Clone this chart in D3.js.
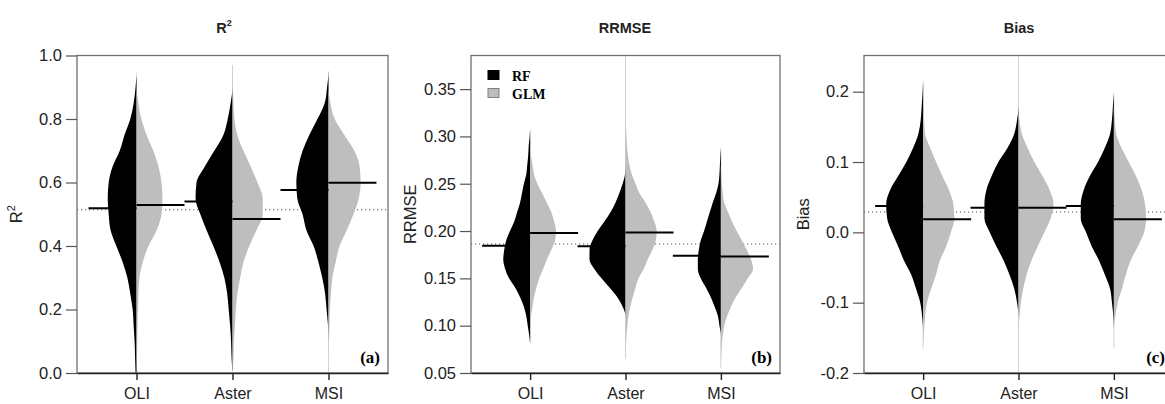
<!DOCTYPE html>
<html>
<head>
<meta charset="utf-8">
<script src="https://cdn.jsdelivr.net/npm/d3@7"></script>
<style>
  body { margin: 0; background: #fff; }
  svg { display: block; font-family: "Liberation Sans", Arial, sans-serif; }
</style>
</head>
<body>
<svg id="chart" width="1165" height="404"></svg>
<script>
const sensors = ["OLI", "Aster", "MSI"];
const models = ["RF", "GLM"];

// (a) R2 -- relative bean density read at each level, one row per sensor
const r2Levels = [1.00, 0.95, 0.90, 0.85, 0.80, 0.75, 0.70, 0.65, 0.60, 0.55, 0.50,
                  0.45, 0.40, 0.35, 0.30, 0.25, 0.20, 0.15, 0.10, 0.05, 0.00];
const r2DensRF = [
  [0, 0, .02, .06, .13, .25, .35, .50, .58, .60, .58, .54, .42, .29, .19, .13, .08, .06, .04, .03, .02],
  [0, 0, 0, .04, .10, .19, .38, .58, .75, .77, .67, .54, .40, .27, .17, .11, .08, .05, .03, .02, 0],
  [0, 0, .03, .08, .23, .40, .54, .63, .67, .65, .54, .46, .31, .21, .13, .07, .04, .01, 0, 0, 0]
];
const r2DensGLM = [
  [0, 0, 0, .04, .10, .21, .35, .46, .52, .54, .52, .42, .25, .13, .06, .04, .03, .02, .015, .01, 0],
  [0, 0, .01, .02, .04, .10, .23, .38, .52, .63, .63, .50, .35, .23, .16, .10, .07, .05, .03, .02, 0],
  [0, 0, 0, .04, .13, .33, .54, .65, .67, .63, .52, .38, .23, .15, .08, .05, .03, .02, .01, 0, 0]
];
const r2MedRF = [0.519, 0.540, 0.576];
const r2MedGLM = [0.529, 0.485, 0.599];
const r2Tails = [[0.0, 0.93], [0.01, 0.97], [0.0, 0.95]];
const r2Mean = 0.514;
const r2Ticks = [0.0, 0.2, 0.4, 0.6, 0.8, 1.0];

// (b) RRMSE
const rrmseLevels = [0.32, 0.31, 0.30, 0.29, 0.28, 0.27, 0.26, 0.25, 0.24, 0.23, 0.22, 0.21, 0.20, 0.19,
                     0.18, 0.17, 0.16, 0.15, 0.14, 0.13, 0.12, 0.11, 0.10, 0.09, 0.08, 0.07, 0.06];
const rrmseDensRF = [
  [0, 0, .01, .03, .04, .06, .08, .13, .17, .21, .27, .33, .42, .50, .54, .56, .52, .44, .31, .21, .13, .08, .05, .02, 0, 0, 0],
  [0, 0, 0, 0, 0, 0, .01, .06, .13, .21, .31, .44, .58, .69, .75, .75, .65, .50, .33, .17, .06, 0, 0, 0, 0, 0, 0],
  [0, 0, 0, 0, .01, .02, .03, .05, .10, .17, .23, .29, .35, .42, .46, .48, .48, .42, .31, .21, .13, .06, .03, 0, 0, 0, 0]
];
const rrmseDensGLM = [
  [0, 0, 0, .01, .02, .05, .08, .15, .25, .35, .44, .50, .54, .52, .44, .35, .27, .19, .13, .08, .05, .02, 0, 0, 0, 0, 0],
  [0, .01, .02, .03, .05, .08, .13, .21, .29, .42, .52, .60, .65, .63, .56, .46, .38, .27, .21, .15, .10, .06, .04, .02, .01, 0, 0],
  [0, 0, 0, 0, 0, 0, .01, .02, .04, .07, .15, .23, .33, .44, .54, .63, .67, .56, .44, .31, .21, .13, .07, .04, .02, .01, 0]
];
const rrmseMedRF = [0.1845, 0.184, 0.174];
const rrmseMedGLM = [0.198, 0.1985, 0.173];
const rrmseTails = [[0.083, 0.305], [0.065, 0.39], [0.055, 0.285]];
const rrmseMean = 0.1863;
const rrmseTicks = [0.05, 0.10, 0.15, 0.20, 0.25, 0.30, 0.35];

// (c) Bias
const biasLevels = [0.22, 0.20, 0.18, 0.16, 0.14, 0.12, 0.10, 0.08, 0.06, 0.04,
                    0.02, 0.00, -0.02, -0.04, -0.06, -0.08, -0.10, -0.12, -0.14, -0.16];
const biasDensRF = [
  [0, .01, .03, .05, .10, .21, .35, .52, .69, .77, .75, .65, .52, .40, .25, .15, .06, .02, 0, 0],
  [0, 0, 0, .03, .09, .23, .42, .56, .67, .71, .71, .60, .46, .31, .19, .09, .03, 0, 0, 0],
  [0, 0, .02, .04, .08, .19, .33, .50, .63, .69, .69, .58, .46, .31, .19, .08, .04, .01, 0, 0]
];
const biasDensGLM = [
  [0, 0, 0, .02, .04, .15, .27, .40, .54, .63, .65, .58, .48, .35, .27, .17, .08, .04, .02, 0],
  [0, 0, 0, .02, .07, .19, .33, .50, .65, .73, .67, .54, .40, .27, .17, .10, .05, .02, 0, 0],
  [0, 0, 0, .02, .05, .16, .31, .46, .58, .65, .67, .63, .50, .35, .25, .17, .08, .03, 0, 0]
];
const biasMedRF = [0.0374, 0.035, 0.0374];
const biasMedGLM = [0.0185, 0.035, 0.0185];
const biasTails = [[-0.165, 0.21], [-0.21, 0.26], [-0.165, 0.195]];
const biasMean = 0.029;
const biasTicks = [-0.2, -0.1, 0.0, 0.1, 0.2];

// layout
const plotTop = 55.5, plotBottom = 373;
const beanHalf = 48;
const colors = { RF: "#000000", GLM: "#bebebe" };

const panels = [
  { title: "R", sup: "2", ylab: "R", ylabSup: "2", tag: "(a)", left: 77, right: 388, titleX: 224,
    domain: [0, 1], ticks: r2Ticks, digits: 1, levels: r2Levels, rf: r2DensRF, glm: r2DensGLM,
    medRF: r2MedRF, medGLM: r2MedGLM, tails: r2Tails, mean: r2Mean, legend: false },
  { title: "RRMSE", ylab: "RRMSE", tag: "(b)", left: 471, right: 780, titleX: 625,
    domain: [0.05, 0.3855], ticks: rrmseTicks, digits: 2, levels: rrmseLevels, rf: rrmseDensRF, glm: rrmseDensGLM,
    medRF: rrmseMedRF, medGLM: rrmseMedGLM, tails: rrmseTails, mean: rrmseMean, legend: true },
  { title: "Bias", ylab: "Bias", tag: "(c)", left: 864, right: 1173, titleX: 1019,
    domain: [-0.2, 0.2515], ticks: biasTicks, digits: 1, levels: biasLevels, rf: biasDensRF, glm: biasDensGLM,
    medRF: biasMedRF, medGLM: biasMedGLM, tails: biasTails, mean: biasMean, legend: false }
];

const svg = d3.select("#chart");
const w = d3.scaleLinear().domain([0, 1]).range([0, beanHalf]);

panels.forEach((p, pi) => {
  const x = d3.scalePoint().domain(sensors).range([p.left, p.right]).padding(0.62);
  const y = d3.scaleLinear().domain(p.domain).range([plotBottom, plotTop]);
  const g = svg.append("g");

  svg.append("clipPath").attr("id", "clip" + pi)
    .append("rect")
      .attr("x", p.left).attr("y", plotTop)
      .attr("width", p.right - p.left).attr("height", plotBottom - plotTop);

  const inner = g.append("g").attr("clip-path", "url(#clip" + pi + ")");

  // overall mean, dotted
  inner.append("line")
    .attr("x1", p.left).attr("x2", p.right)
    .attr("y1", y(p.mean)).attr("y2", y(p.mean))
    .attr("stroke", "#555").attr("stroke-width", 1.1)
    .attr("stroke-dasharray", "1.2,2.8");

  sensors.forEach((s, i) => {
    const cx = x(s);
    inner.append("line")
      .attr("x1", cx).attr("x2", cx)
      .attr("y1", y(p.tails[i][0])).attr("y2", y(p.tails[i][1]))
      .attr("stroke", "#d4d4d4").attr("stroke-width", 1);

    // monotone along the value axis, so the outline never crosses the centre
    const bean = side => d3.area()
      .curve(d3.curveMonotoneY)
      .y(d => y(d[0]))
      .x0(cx)
      .x1(d => cx + side * w(d[1]));

    inner.append("path")
      .datum(d3.zip(p.levels, p.rf[i]).reverse())
      .attr("d", bean(-1))
      .attr("fill", colors.RF);
    inner.append("path")
      .datum(d3.zip(p.levels, p.glm[i]).reverse())
      .attr("d", bean(1))
      .attr("fill", colors.GLM);

    // bean lines
    inner.append("line")
      .attr("x1", cx - w(1)).attr("x2", cx)
      .attr("y1", y(p.medRF[i])).attr("y2", y(p.medRF[i]))
      .attr("stroke", "#000").attr("stroke-width", 2);
    inner.append("line")
      .attr("x1", cx).attr("x2", cx + w(1))
      .attr("y1", y(p.medGLM[i])).attr("y2", y(p.medGLM[i]))
      .attr("stroke", "#000").attr("stroke-width", 2);
  });

  // box
  g.append("rect")
    .attr("x", p.left).attr("y", plotTop)
    .attr("width", p.right - p.left).attr("height", plotBottom - plotTop)
    .attr("fill", "none").attr("stroke", "#707070").attr("stroke-width", 1.3);

  // axes
  const yAxis = d3.axisLeft(y).tickValues(p.ticks).tickSize(11).tickPadding(4)
    .tickFormat(d => d.toFixed(p.digits));
  const ya = g.append("g").attr("transform", "translate(" + p.left + ",0)").call(yAxis);
  ya.select(".domain").remove();
  ya.selectAll(".tick line").attr("stroke", "#555").attr("stroke-width", 1.2);
  ya.selectAll(".tick text").attr("fill", "#222").style("font-size", "16.5px")
    .style("font-family", "'Liberation Sans', Arial, sans-serif");

  const xAxis = d3.axisBottom(x).tickSize(7).tickSizeOuter(0).tickPadding(8);
  const xa = g.append("g").attr("transform", "translate(0," + plotBottom + ")").call(xAxis);
  xa.select(".domain").attr("stroke", "#222").attr("stroke-width", 1.4);
  xa.selectAll(".tick line").attr("stroke", "#222").attr("stroke-width", 1.4);
  xa.selectAll(".tick text").attr("fill", "#222").style("font-size", "16px")
    .style("font-family", "'Liberation Sans', Arial, sans-serif");

  // title
  const t = svg.append("text")
    .attr("x", p.titleX).attr("y", 33)
    .attr("text-anchor", "middle")
    .style("font-size", "14.5px").style("font-weight", "bold").attr("fill", "#222")
    .text(p.title);
  if (p.sup) t.append("tspan").attr("dy", -7).style("font-size", "9px").text(p.sup);

  // y label
  const yl = svg.append("text")
    .attr("transform", "translate(" + (p.left - 55) + "," + ((plotTop + plotBottom) / 2) + ") rotate(-90)")
    .attr("text-anchor", "middle")
    .style("font-size", "16.5px").attr("fill", "#222")
    .text(p.ylab);
  if (p.ylabSup) yl.append("tspan").attr("dy", -7).style("font-size", "11px").text(p.ylabSup);

  // panel tag
  svg.append("text")
    .attr("x", p.right - 8).attr("y", plotBottom - 10)
    .attr("text-anchor", "end")
    .style("font-family", "'Liberation Serif', 'Times New Roman', serif")
    .style("font-weight", "bold").style("font-size", "17px")
    .text(p.tag);

  if (p.legend) {
    const lg = svg.append("g").attr("transform", "translate(" + (p.left + 17) + "," + (plotTop + 15) + ")");
    models.forEach((m, k) => {
      lg.append("rect")
        .attr("x", 0).attr("y", k * 18)
        .attr("width", 11).attr("height", 9)
        .attr("fill", colors[m])
        .attr("stroke", m === "RF" ? "#000" : "#808080").attr("stroke-width", 1);
      lg.append("text")
        .attr("x", 24).attr("y", k * 18 + 10)
        .style("font-family", "'Liberation Serif', 'Times New Roman', serif")
        .style("font-weight", "bold").style("font-size", "14px")
        .text(m);
    });
  }
});
</script>
</body>
</html>
